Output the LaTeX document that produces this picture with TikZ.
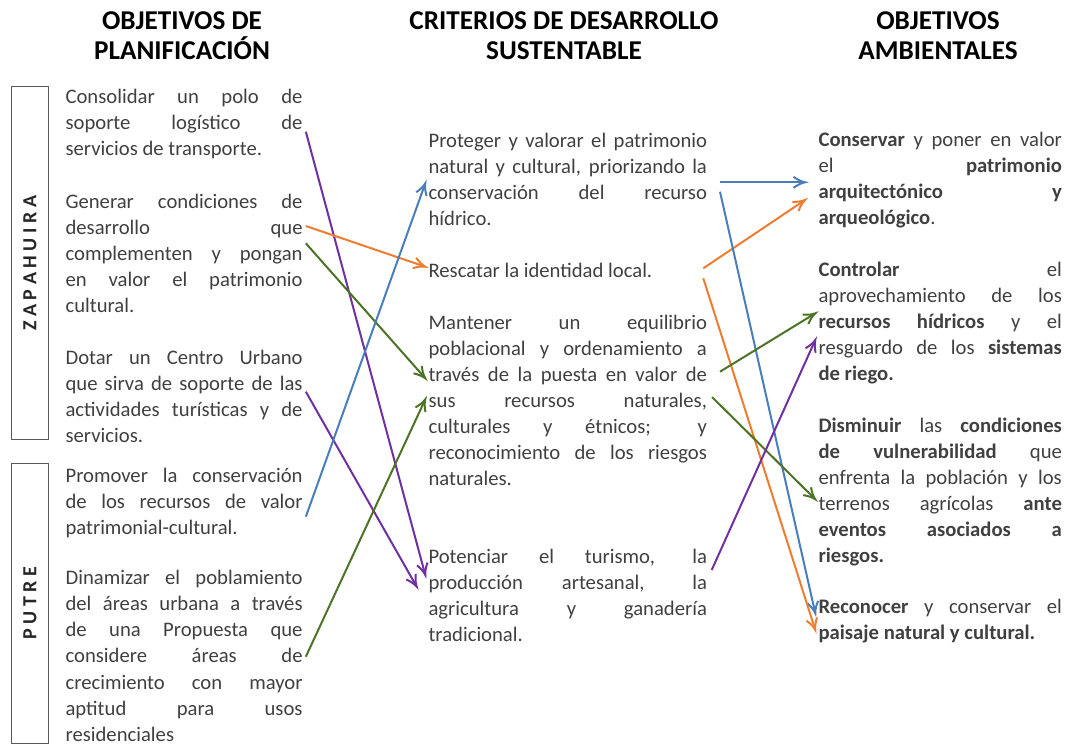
\documentclass[tikz,border=0pt]{standalone}
\usepackage{fontspec}
\setmainfont{Carlito}
\usepackage{tikz}

\definecolor{lnblue}{RGB}{74,126,187}
\definecolor{lnorange}{RGB}{237,125,49}
\definecolor{lngreen}{RGB}{76,115,38}
\definecolor{lnpurple}{RGB}{112,48,160}
\definecolor{txtgray}{RGB}{64,64,64}
\definecolor{boxgray}{RGB}{90,90,90}

\newcommand{\bodytext}{\fontsize{15.5}{19.6}\selectfont\tolerance=10000\hyphenpenalty=10000\relax}

\begin{document}
\begin{tikzpicture}[x=0.75pt,y=0.75pt,yscale=-1,xscale=1,
  head/.style={anchor=base, inner sep=0.75pt, align=center, font=\fontsize{20.4}{22.5}\selectfont\bfseries},
  zone/.style={draw=boxgray, line width=0.75, rotate=90, inner sep=0pt, minimum height=27.45pt, text=black!85, font=\fontsize{15}{17}\selectfont\bfseries},
  plan/.style={anchor=base west, inner xsep=2.25pt, inner ysep=0.75pt, text width=177.75pt, align=justify, text=txtgray, font=\bodytext},
  crit/.style={plan, text width=208.8pt},
  amb/.style={plan, text width=182.5pt},
  blueln/.style={color=lnblue, line width=1.5},
  orangeln/.style={color=lnorange, line width=1.5},
  greenln/.style={color=lngreen, line width=1.5},
  purpleln/.style={color=lnpurple, line width=1.5},
]
\useasboundingbox (0,0) rectangle (1068,746);

% Text Node
\draw (182,59) node [head] (hplan) {OBJETIVOS DE\\PLANIFICACIÓN};
% Text Node
\draw (564,59) node [head] (hcrit) {CRITERIOS DE DESARROLLO\\SUSTENTABLE};
% Text Node
\draw (938,59) node [head] (hamb) {OBJETIVOS\\AMBIENTALES};

% Zones
\draw (30,263.3) node [zone, minimum width=265pt] (zapa) {Z A P A H U I R A};
\draw (30,603.2) node [zone, minimum width=209.8pt] (putre) {P U T R E};

% Text Node
\draw (62.3,103) node [plan] (plan1) {Consolidar un polo de\linebreak soporte logístico de\linebreak servicios de transporte.};
% Text Node
\draw (62.3,208) node [plan] (plan2) {Generar condiciones de\linebreak desarrollo que\linebreak complementen y pongan\linebreak en valor el patrimonio\linebreak cultural.};
% Text Node
\draw (62.3,364) node [plan] (plan3) {Dotar un Centro Urbano\linebreak que sirva de soporte de las\linebreak actividades turísticas y de\linebreak servicios.};
% Text Node
\draw (62.3,482) node [plan] (plan4) {Promover la conservación\linebreak de los recursos de valor\linebreak patrimonial-cultural.};
% Text Node
\draw (62.3,584.5) node [plan] (plan5) {Dinamizar el poblamiento\linebreak del áreas urbana a través\linebreak de una Propuesta que\linebreak considere áreas de\linebreak crecimiento con mayor\linebreak aptitud para usos\linebreak residenciales};

% Text Node
\draw (425.3,147) node [crit] (crit1) {Proteger y valorar el patrimonio\linebreak natural y cultural, priorizando la\linebreak conservación del recurso\linebreak hídrico.};
% Text Node
\draw (425.3,277) node [crit] (crit2) {Rescatar la identidad local.};
% Text Node
\draw (425.3,329) node [crit] (crit3) {Mantener un equilibrio\linebreak poblacional y ordenamiento a\linebreak través de la puesta en valor de\linebreak sus recursos naturales,\linebreak culturales y étnicos; y\linebreak reconocimiento de los riesgos\linebreak naturales.};
% Text Node
\draw (425.3,563) node [crit] (crit4) {Potenciar el turismo, la\linebreak producción artesanal, la\linebreak agricultura y ganadería\linebreak tradicional.};

% Text Node
\draw (815.3,146) node [amb] (amb1) {\textbf{Conservar} y poner en valor\linebreak el \textbf{patrimonio}\linebreak \textbf{arquitectónico y}\linebreak \textbf{arqueológico}.};
% Text Node
\draw (815.3,276) node [amb] (amb2) {\textbf{Controlar} el\linebreak aprovechamiento de los\linebreak \textbf{recursos hídricos} y el\linebreak resguardo de los \textbf{sistemas}\linebreak \textbf{de riego.}};
% Text Node
\draw (815.3,432) node [amb] (amb3) {\textbf{Disminuir} las \textbf{condiciones}\linebreak \textbf{de vulnerabilidad} que\linebreak enfrenta la población y los\linebreak terrenos agrícolas \textbf{ante}\linebreak \textbf{eventos asociados a}\linebreak \textbf{riesgos.}};
% Text Node
\draw (815.3,613) node [amb] (amb4) {\textbf{Reconocer} y conservar el\linebreak \textbf{paisaje natural y cultural.}};

% Arrow ends
\coordinate (s1) at (plan1.east |- 0,131.7);
\coordinate (t1) at (crit4.west |- 0,575);
\coordinate (s2) at (plan2.east |- 0,226);
\coordinate (t2) at (crit2.west |- 0,266.7);
\coordinate (s3) at (plan2.east |- 0,243.3);
\coordinate (t3) at (crit3.west |- 0,378.3);
\coordinate (s4) at (plan3.east |- 0,391.7);
\coordinate (t4) at (416.7,586.7);
\coordinate (s5) at (plan4.east |- 0,516.7);
\coordinate (t5) at (crit1.west |- 0,183.3);
\coordinate (s6) at (plan5.east |- 0,656.7);
\coordinate (t6) at (crit3.west |- 0,399.3);
\coordinate (s7) at (720,182.3);
\coordinate (t7) at (805,182.3);
\coordinate (s8) at (703.3,268.3);
\coordinate (t8) at (805,200);
\coordinate (s9) at (720,191.7);
\coordinate (t9) at (amb4.west |- 0,613.3);
\coordinate (s10) at (703.3,278.3);
\coordinate (t10) at (amb4.west |- 0,630);
\coordinate (s11) at (720,371.7);
\coordinate (t11) at (amb2.west |- 0,313.3);
\coordinate (s12) at (712,397);
\coordinate (t12) at (amb3.west |- 0,499.3);
\coordinate (s13) at (711.7,570);
\coordinate (t13) at (amb2.west |- 0,340);

%Straight Lines
\draw [purpleln, shorten >=1.5pt] (s1) -- (t1) ;
\draw [shift={(t1)}, rotate = 254.85] [purpleln] (11.5,-5.5) .. controls (7.3,-2.5) and (3.5,-0.6) .. (0,0) .. controls (3.5,0.6) and (7.3,2.5) .. (11.5,5.5) ;
%Straight Lines
\draw [orangeln, shorten >=1.5pt] (s2) -- (t2) ;
\draw [shift={(t2)}, rotate = 198.73] [orangeln] (11.5,-5.5) .. controls (7.3,-2.5) and (3.5,-0.6) .. (0,0) .. controls (3.5,0.6) and (7.3,2.5) .. (11.5,5.5) ;
%Straight Lines
\draw [greenln, shorten >=1.5pt] (s3) -- (t3) ;
\draw [shift={(t3)}, rotate = 228.37] [greenln] (11.5,-5.5) .. controls (7.3,-2.5) and (3.5,-0.6) .. (0,0) .. controls (3.5,0.6) and (7.3,2.5) .. (11.5,5.5) ;
%Straight Lines
\draw [purpleln, shorten >=1.5pt] (s4) -- (t4) ;
\draw [shift={(t4)}, rotate = 240.27] [purpleln] (11.5,-5.5) .. controls (7.3,-2.5) and (3.5,-0.6) .. (0,0) .. controls (3.5,0.6) and (7.3,2.5) .. (11.5,5.5) ;
%Straight Lines
\draw [blueln, shorten >=1.5pt] (s5) -- (t5) ;
\draw [shift={(t5)}, rotate = 109.8] [blueln] (11.5,-5.5) .. controls (7.3,-2.5) and (3.5,-0.6) .. (0,0) .. controls (3.5,0.6) and (7.3,2.5) .. (11.5,5.5) ;
%Straight Lines
\draw [greenln, shorten >=1.5pt] (s6) -- (t6) ;
\draw [shift={(t6)}, rotate = 115.0] [greenln] (11.5,-5.5) .. controls (7.3,-2.5) and (3.5,-0.6) .. (0,0) .. controls (3.5,0.6) and (7.3,2.5) .. (11.5,5.5) ;
%Straight Lines
\draw [blueln, shorten >=1.5pt] (s7) -- (t7) ;
\draw [shift={(t7)}, rotate = 180] [blueln] (11.5,-5.5) .. controls (7.3,-2.5) and (3.5,-0.6) .. (0,0) .. controls (3.5,0.6) and (7.3,2.5) .. (11.5,5.5) ;
%Straight Lines
\draw [orangeln, shorten >=1.5pt] (s8) -- (t8) ;
\draw [shift={(t8)}, rotate = 146.12] [orangeln] (11.5,-5.5) .. controls (7.3,-2.5) and (3.5,-0.6) .. (0,0) .. controls (3.5,0.6) and (7.3,2.5) .. (11.5,5.5) ;
%Straight Lines
\draw [blueln, shorten >=1.5pt] (s9) -- (t9) ;
\draw [shift={(t9)}, rotate = 257.26] [blueln] (11.5,-5.5) .. controls (7.3,-2.5) and (3.5,-0.6) .. (0,0) .. controls (3.5,0.6) and (7.3,2.5) .. (11.5,5.5) ;
%Straight Lines
\draw [orangeln, shorten >=1.5pt] (s10) -- (t10) ;
\draw [shift={(t10)}, rotate = 252.34] [orangeln] (11.5,-5.5) .. controls (7.3,-2.5) and (3.5,-0.6) .. (0,0) .. controls (3.5,0.6) and (7.3,2.5) .. (11.5,5.5) ;
%Straight Lines
\draw [greenln, shorten >=1.5pt] (s11) -- (t11) ;
\draw [shift={(t11)}, rotate = 148.5] [greenln] (11.5,-5.5) .. controls (7.3,-2.5) and (3.5,-0.6) .. (0,0) .. controls (3.5,0.6) and (7.3,2.5) .. (11.5,5.5) ;
%Straight Lines
\draw [greenln, shorten >=1.5pt] (s12) -- (t12) ;
\draw [shift={(t12)}, rotate = 224.72] [greenln] (11.5,-5.5) .. controls (7.3,-2.5) and (3.5,-0.6) .. (0,0) .. controls (3.5,0.6) and (7.3,2.5) .. (11.5,5.5) ;
%Straight Lines
\draw [purpleln, shorten >=1.5pt] (s13) -- (t13) ;
\draw [shift={(t13)}, rotate = 114.25] [purpleln] (11.5,-5.5) .. controls (7.3,-2.5) and (3.5,-0.6) .. (0,0) .. controls (3.5,0.6) and (7.3,2.5) .. (11.5,5.5) ;

\end{tikzpicture}
\end{document}
